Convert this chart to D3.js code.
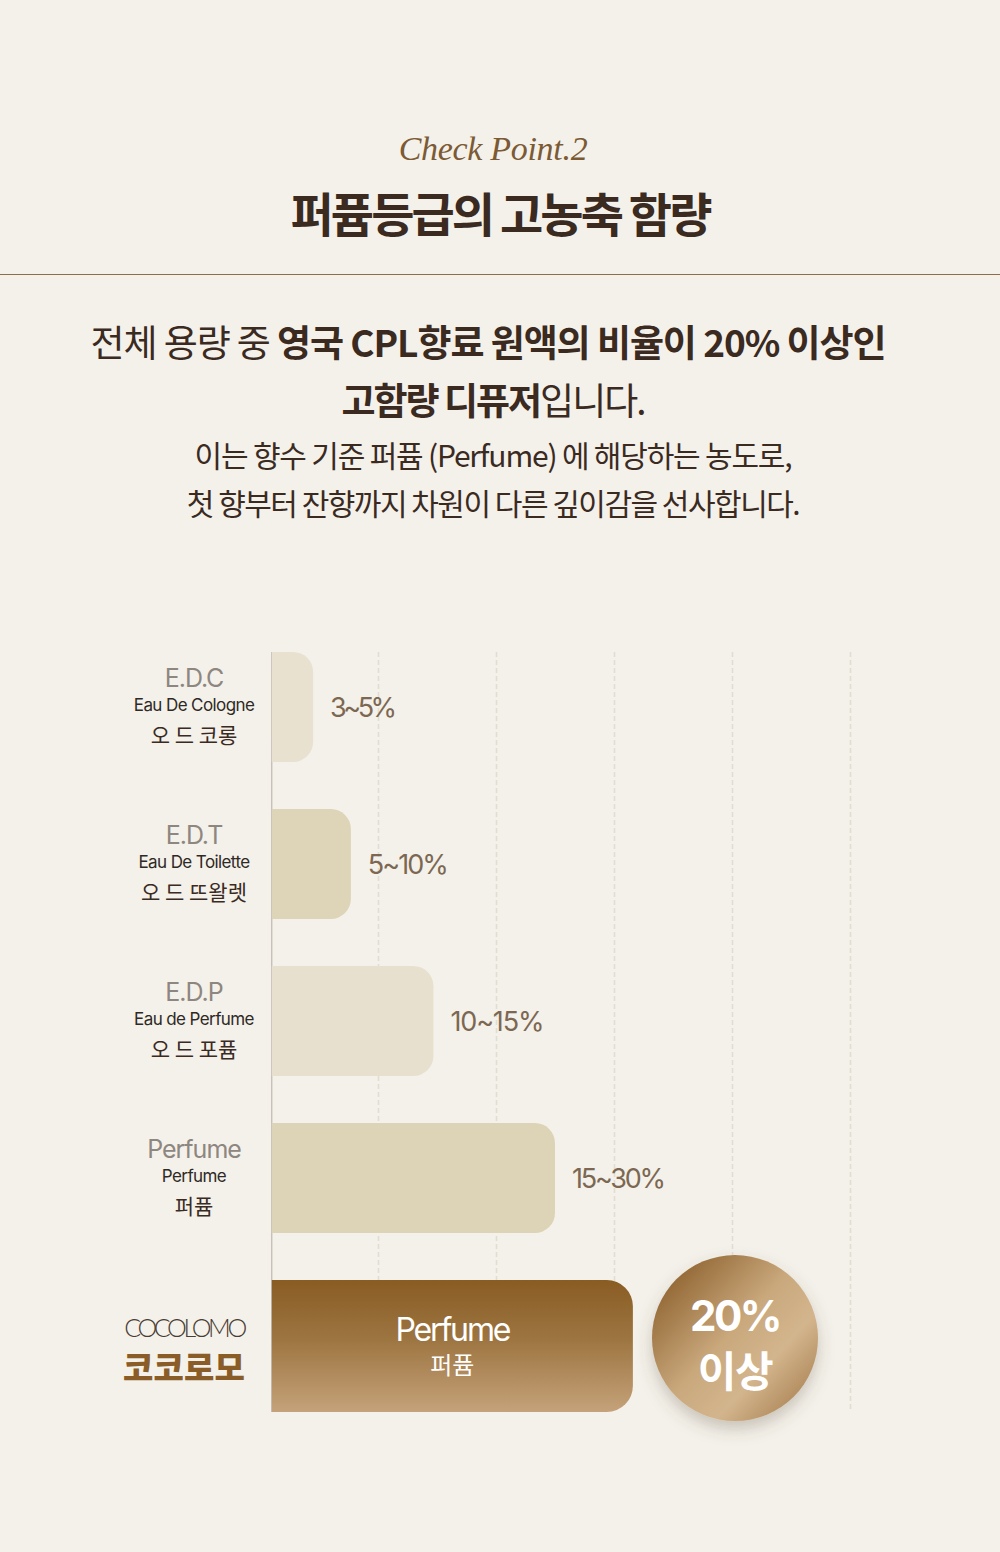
<!DOCTYPE html>
<html>
<head>
<meta charset="utf-8">
<script src="https://cdn.jsdelivr.net/npm/d3@7"></script>
<style>
  html, body { margin: 0; padding: 0; background: #f4f1ea; }
  svg { display: block; }
</style>
</head>
<body>
<div id="chart"></div>
<script>
// ---------- DATA ----------
const categories   = ["E.D.C", "E.D.T", "E.D.P", "Perfume", "COCOLOMO"];
const englishNames = ["Eau De Cologne", "Eau De Toilette", "Eau de Perfume", "Perfume"];
const koreanNames  = ["오 드 코롱", "오 드 뜨왈렛", "오 드 포퓸", "퍼퓸"];
const rangeLabels  = ["3~5%", "5~10%", "10~15%", "15~30%"];
// bar lengths in chart units (decorative scale)
const barValues    = [2.25, 3.85, 7.35, 12.5, 15.8];
const gridTicks    = [5, 10, 15, 20, 25];
const highlightName = ["Perfume", "퍼퓸"];
const badgeText    = ["20%", "이상"];
const brandText    = ["COCOLOMO", "코코로모"];
const headerSub    = "Check Point.2";
const headerTitle  = "퍼퓸등급의 고농축 함량";
const paraLine1    = [["전체 용량 중 ", 400], ["영국 CPL향료 원액의 비율이 20% 이상인", 700]];
const paraLine2    = [["고함량 디퓨저", 700], ["입니다.", 400]];
const paraLine3    = "이는 향수 기준 퍼퓸 (Perfume) 에 해당하는 농도로,";
const paraLine4    = "첫 향부터 잔향까지 차원이 다른 깊이감을 선사합니다.";

// ---------- SETUP ----------
const W = 1000, H = 1552;
const KR = "'Noto Sans CJK KR', 'Noto Sans', sans-serif";
const LAT = "Inter, 'Noto Sans', sans-serif";
const svg = d3.select("#chart").append("svg").attr("width", W).attr("height", H);
svg.append("rect").attr("width", W).attr("height", H).attr("fill", "#f4f1ea");

const defs = svg.append("defs");
const g1 = defs.append("linearGradient").attr("id", "barGrad").attr("x1", 0).attr("y1", 0).attr("x2", 0).attr("y2", 1);
g1.append("stop").attr("offset", 0).attr("stop-color", "#895c23");
g1.append("stop").attr("offset", 0.45).attr("stop-color", "#9d7541");
g1.append("stop").attr("offset", 1).attr("stop-color", "#c5a27a");
const g2 = defs.append("linearGradient").attr("id", "badgeGrad").attr("x1", 0.1).attr("y1", 0.1).attr("x2", 0.95).attr("y2", 0.9);
g2.append("stop").attr("offset", 0).attr("stop-color", "#8f6330");
g2.append("stop").attr("offset", 0.45).attr("stop-color", "#c9a87c");
g2.append("stop").attr("offset", 0.7).attr("stop-color", "#d3b58d");
g2.append("stop").attr("offset", 1).attr("stop-color", "#a98152");
const f = defs.append("filter").attr("id", "shadow").attr("x", "-30%").attr("y", "-30%").attr("width", "160%").attr("height", "170%");
f.append("feDropShadow").attr("dx", 0).attr("dy", 8).attr("stdDeviation", 8)
  .attr("flood-color", "#5a4a3a").attr("flood-opacity", 0.28);

function fit(sel, target) {
  sel.each(function () {
    const el = d3.select(this);
    el.attr("letter-spacing", 0);
    const n = this.textContent.length;
    const w = this.getComputedTextLength();
    if (n > 1) el.attr("letter-spacing", ((target - w) / (n - 1)).toFixed(2));
  });
  return sel;
}

// ---------- HEADER ----------
fit(svg.append("text").attr("x", 493).attr("y", 160).attr("text-anchor", "middle")
  .attr("font-family", "'Liberation Serif', 'DejaVu Serif', serif").attr("font-style", "italic")
  .attr("font-size", 34).attr("fill", "#7b5a34").text(headerSub), 189);

fit(svg.append("text").attr("x", 500).attr("y", 232).attr("text-anchor", "middle")
  .attr("font-family", KR).attr("font-weight", 700)
  .attr("font-size", 47).attr("fill", "#3a2a1f").text(headerTitle), 422);

svg.append("line").attr("x1", 0).attr("x2", W).attr("y1", 274.5).attr("y2", 274.5)
  .attr("stroke", "#8d6d4c").attr("stroke-width", 1);

// ---------- PARAGRAPH ----------
function mixed(parts, x, y, size, target) {
  const t = svg.append("text").attr("x", x).attr("y", y).attr("text-anchor", "middle")
    .attr("font-family", KR).attr("font-size", size).attr("fill", "#3a2a1f");
  parts.forEach(p => t.append("tspan").attr("font-weight", p[1]).text(p[0]));
  fit(t, target);
  return t;
}
mixed(paraLine1, 488, 357, 37, 796);
mixed(paraLine2, 493, 415, 37, 305);
fit(svg.append("text").attr("x", 493).attr("y", 467).attr("text-anchor", "middle")
  .attr("font-family", KR).attr("font-size", 30).attr("fill", "#3a2a1f").text(paraLine3), 598);
fit(svg.append("text").attr("x", 493).attr("y", 515).attr("text-anchor", "middle")
  .attr("font-family", KR).attr("font-size", 30).attr("fill", "#3a2a1f").text(paraLine4), 614);

// ---------- CHART ----------
const x = d3.scaleLinear().domain([0, 25]).range([260, 850]);
const y = d3.scaleBand().domain(categories).range([652, 1390]).paddingInner(0.3).paddingOuter(0);
const x0 = x(0.5);
const bw = y.bandwidth();
const lastH = bw * 1.2;
const chartBottom = y(categories[4]) + lastH;

// grid
svg.append("g").selectAll("line").data(gridTicks).join("line")
  .attr("x1", d => Math.round(x(d)) + 0.5).attr("x2", d => Math.round(x(d)) + 0.5)
  .attr("y1", 652).attr("y2", chartBottom)
  .attr("stroke", "#e2ddd3").attr("stroke-width", 1.6).attr("stroke-dasharray", "5,3");

// axis line
svg.append("line").attr("x1", x0).attr("x2", x0).attr("y1", 652).attr("y2", chartBottom)
  .attr("stroke", "#b3ada6").attr("stroke-width", 1);

function rightRounded(xa, ya, w, h, r) {
  return `M${xa},${ya}H${xa + w - r}A${r},${r} 0 0 1 ${xa + w},${ya + r}V${ya + h - r}A${r},${r} 0 0 1 ${xa + w - r},${ya + h}H${xa}Z`;
}

const barColors = ["#e8e1cf", "#ded4b8", "#e7e0ce", "#ddd3b6"];
const main = categories.slice(0, 4);
svg.append("g").selectAll("path").data(main).join("path")
  .attr("d", (d, i) => rightRounded(x0, y(d), x(barValues[i]) - x0, bw, 20))
  .attr("fill", (d, i) => barColors[i]);

// highlight bar
svg.append("path")
  .attr("d", rightRounded(x0, y(categories[4]), x(barValues[4]) - x0, lastH, 26))
  .attr("fill", "url(#barGrad)");

// range labels
const rl = svg.append("g").selectAll("text").data(main).join("text")
  .attr("x", (d, i) => x(barValues[i]) + 17)
  .attr("y", d => y(d) + bw / 2 + 10)
  .attr("font-family", LAT).attr("font-size", 27).attr("fill", "#7c6852")
  .text((d, i) => rangeLabels[i]);
rl.each(function (d, i) {
  const targets = [67, 81, 94, 94];
  fit(d3.select(this), targets[i]);
});

// left labels
const lx = 194;
const lg = svg.append("g").selectAll("g").data(main).join("g")
  .attr("transform", d => `translate(${lx},${y(d) + bw / 2})`);
lg.append("text").attr("y", -20).attr("text-anchor", "middle")
  .attr("font-family", LAT).attr("font-size", 25).attr("fill", "#8e8680")
  .attr("letter-spacing", -1).text(d => d);
lg.append("text").attr("y", 4).attr("text-anchor", "middle")
  .attr("font-family", LAT).attr("font-size", 17).attr("fill", "#2f2926")
  .attr("letter-spacing", -0.6).text((d, i) => englishNames[i]);
lg.append("text").attr("y", 36).attr("text-anchor", "middle")
  .attr("font-family", KR).attr("font-size", 21).attr("fill", "#3a2a1f")
  .text((d, i) => koreanNames[i]);

// brand
const by = y(categories[4]) + lastH / 2;
fit(svg.append("text").attr("x", 184).attr("y", by - 9).attr("text-anchor", "middle")
  .attr("font-family", "Lato, 'Noto Sans', sans-serif").attr("font-weight", 300)
  .attr("font-size", 25).attr("fill", "#4a3d35").text(brandText[0]), 123);
fit(svg.append("text").attr("x", 184).attr("y", by + 34).attr("text-anchor", "middle")
  .attr("font-family", KR).attr("font-weight", 900)
  .attr("font-size", 33).attr("fill", "#8a5c27").text(brandText[1]), 122);

// highlight bar text
const cx = (x0 + x(barValues[4])) / 2;
fit(svg.append("text").attr("x", cx).attr("y", by - 5).attr("text-anchor", "middle")
  .attr("font-family", LAT).attr("font-size", 32).attr("fill", "#ffffff").text(highlightName[0]), 116);
svg.append("text").attr("x", cx).attr("y", by + 28).attr("text-anchor", "middle")
  .attr("font-family", KR).attr("font-size", 24).attr("fill", "#ffffff").text(highlightName[1]);

// badge
const bcx = 735, bcy = by - 8;
svg.append("circle").attr("cx", bcx).attr("cy", bcy).attr("r", 83)
  .attr("fill", "url(#badgeGrad)").attr("filter", "url(#shadow)");
const bt = svg.append("text").attr("text-anchor", "middle").attr("fill", "#ffffff")
  .attr("font-weight", 700);
bt.append("tspan").attr("x", bcx).attr("y", bcy - 7)
  .attr("font-family", LAT).attr("font-size", 42).attr("letter-spacing", -2.5)
  .text(badgeText[0]);
bt.append("tspan").attr("x", bcx).attr("y", bcy + 49)
  .attr("font-family", KR).attr("font-size", 42).attr("letter-spacing", -1.5)
  .text(badgeText[1]);
</script>
</body>
</html>
